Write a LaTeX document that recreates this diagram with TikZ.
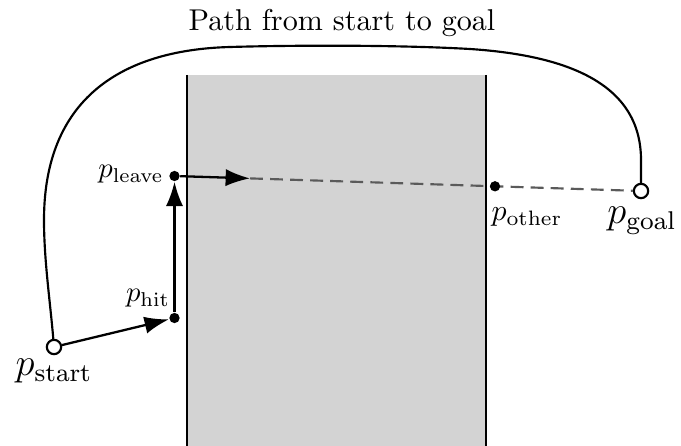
\documentclass[tikz,border=0pt]{standalone}
\usetikzlibrary{arrows.meta}
\definecolor{obst}{RGB}{211,211,211}
\definecolor{dashgray}{RGB}{90,90,90}
\begin{document}
\begin{tikzpicture}[x=0.349pt,y=-0.349pt,
  opencirc/.style={circle,draw=black,fill=white,line width=0.75pt,inner sep=0pt,minimum size=5pt},
  dotnode/.style={circle,fill=black,inner sep=0pt,minimum size=3.6pt},
  arr/.style={line width=0.8pt,-{Latex[length=8.5pt,width=6pt]}},
  dashline/.style={dashgray,line width=0.75pt,dash pattern=on 4.5pt off 2.5pt},
  biglabel/.style={font=\large,scale=1.12,inner sep=0pt},
  smalllabel/.style={inner sep=0pt}]
\useasboundingbox (0,0) rectangle (681,446);
% obstacle
\fill[obst] (187,75) rectangle (486,446);
\draw[line width=0.6pt] (187,75) -- (187,446);
\draw[line width=0.6pt] (486,75) -- (486,446);
% points
\node[opencirc] (start) at (54,347) {};
\node[dotnode] (hit) at (174.5,318) {};
\node[dotnode] (leave) at (174.5,176) {};
\coordinate (mid) at (250,178.4);
\node[opencirc] (goal) at (641,191) {};
% dashed continuation
\draw[dashline] (mid) -- (goal);
\node[dotnode] (other) at (495,186.3) {};
% path around
\draw[line width=0.75pt] (start) .. controls (50,300) and (44,260) .. (44,220)
  .. controls (44,100) and (120,50) .. (230,47)
  .. controls (300,45) and (400,45) .. (470,49)
  .. controls (560,55) and (641,80) .. (641,160) -- (goal);
% arrows
\draw[arr] (start) -- (hit);
\draw[arr] (hit) -- (leave);
\draw[arr] (leave) -- (mid);
% labels
\node[anchor=base,scale=1.05] (title) at (342,31) {Path from start to goal};
\node[biglabel,anchor=base] (lstart) at (54,376) {$p_{\mathrm{start}}$};
\node[biglabel,anchor=base] (lgoal) at (642,224) {$p_{\mathrm{goal}}$};
\node[smalllabel,scale=1.04,anchor=base] (lother) at (527,221) {$p_{\mathrm{other}}$};
\node[smalllabel,anchor=base east] (lleave) at (164,178) {$p_{\mathrm{leave}}$};
\node[smalllabel,anchor=base] (lhit) at (148,302) {$p_{\mathrm{hit}}$};
\end{tikzpicture}
\end{document}
